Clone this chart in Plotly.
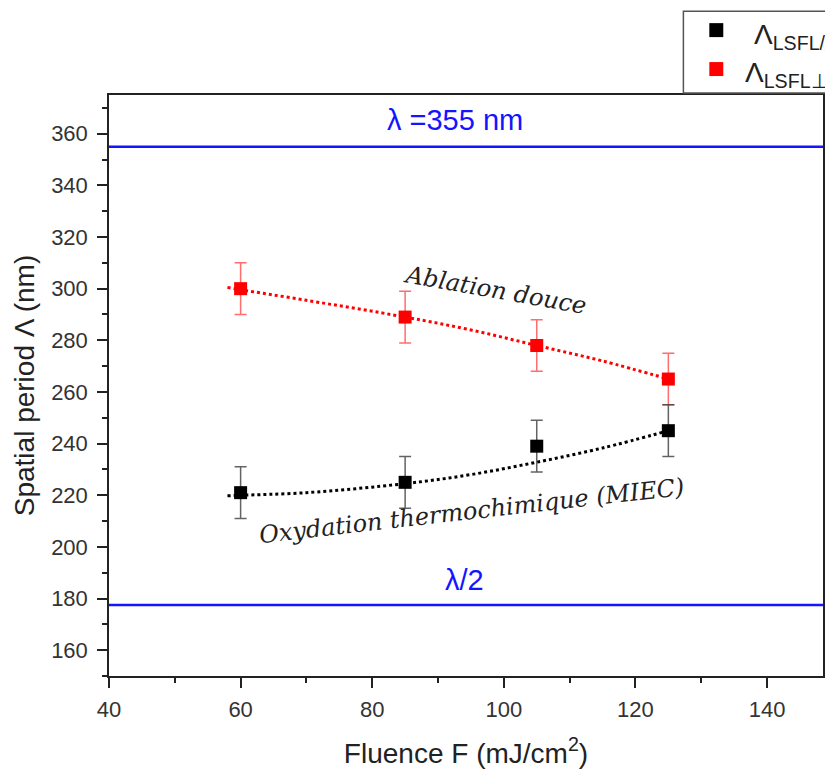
import plotly.graph_objects as go

fluence = [60, 85, 105, 125]
period_perp = [300, 289, 278, 265]     # red, Λ_LSFL⊥
period_par = [221, 225, 239, 245]      # black, Λ_LSFL//
err_perp = [10, 10, 10, 10]
err_par = [10, 10, 10, 10]

fit_x = [58, 60, 70, 85, 95, 105, 115, 125]
fit_perp = [300.5, 299.6, 295.5, 289, 284, 278, 272, 265]
fit_par = [219.8, 220.0, 221.0, 224.5, 228.0, 232.8, 238.3, 245.0]

wavelength = 355
half_wavelength = 177.5

x_range = [40, 148.5]
y_range = [150, 375]

font_sans = "Liberation Sans, Arial, sans-serif"
font_serif = "DejaVu Serif, Liberation Serif, serif"

fig = go.Figure()

fig.add_trace(go.Scatter(x=fit_x, y=fit_perp, mode="lines",
                         line=dict(color="red", width=3, dash="dot", shape="spline"),
                         showlegend=False, hoverinfo="skip"))
fig.add_trace(go.Scatter(x=fit_x, y=fit_par, mode="lines",
                         line=dict(color="black", width=3, dash="dot", shape="spline"),
                         showlegend=False, hoverinfo="skip"))

fig.add_trace(go.Scatter(x=fluence, y=period_perp, mode="markers",
                         marker=dict(symbol="square", size=13, color="red"),
                         error_y=dict(type="data", array=err_perp, color="rgba(255,60,60,0.75)",
                                      thickness=1.5, width=6),
                         name="Λ<sub>LSFL⊥</sub>", showlegend=False))
fig.add_trace(go.Scatter(x=fluence, y=period_par, mode="markers",
                         marker=dict(symbol="square", size=13, color="black"),
                         error_y=dict(type="data", array=err_par, color="rgba(60,60,60,0.8)",
                                      thickness=1.5, width=6),
                         name="Λ<sub>LSFL//</sub>", showlegend=False))

for yv in [wavelength, half_wavelength]:
    fig.add_shape(type="line", xref="paper", x0=0, x1=1, yref="y", y0=yv, y1=yv,
                  line=dict(color="#1414ff", width=2.5))

ann = []
ann.append(dict(x=(456 - 109) / 716, xref="paper", y=wavelength, yref="y", yshift=27,
                yanchor="middle", text="λ =355 nm", showarrow=False,
                font=dict(family=font_sans, size=29, color="#1414ff")))
ann.append(dict(x=(465 - 109) / 716, xref="paper", y=half_wavelength, yref="y", yshift=25,
                yanchor="middle", text="λ/2", showarrow=False,
                font=dict(family=font_sans, size=29, color="#1414ff")))
ann.append(dict(x=98.6, y=299.5, text="<i>Ablation douce</i>", showarrow=False, textangle=10,
                font=dict(family=font_serif, size=24, color="#222")))
ann.append(dict(x=95.2, y=213.8, text="<i>Oxydation thermochimique (MIEC)</i>", showarrow=False,
                textangle=-6.5, font=dict(family=font_serif, size=24, color="#222")))

# legend (partially outside the page, as in the reference)
W = 716.0
H = 582.0
fig.add_shape(type="rect", xref="paper", yref="paper",
              x0=(685 - 109) / W, x1=1.3, y0=(677 - 93) / H, y1=(677 - 11) / H,
              line=dict(color="#555", width=1.5), fillcolor="white", layer="above")
for py, col in [(30, "black"), (69, "red")]:
    cx = (718 - 109) / W
    cy = (677 - py) / H
    fig.add_shape(type="rect", xref="paper", yref="paper",
                  x0=cx - 7 / W, x1=cx + 7 / W, y0=cy - 7 / H, y1=cy + 7 / H,
                  line=dict(width=0), fillcolor=col, layer="above")
ann.append(dict(x=(754 - 109) / W, xref="paper", y=(677 - 36) / H, yref="paper",
                xanchor="left", yanchor="middle", showarrow=False,
                text="Λ<sub>LSFL//</sub>", font=dict(family=font_sans, size=28, color="#222")))
ann.append(dict(x=(745 - 109) / W, xref="paper", y=(677 - 74) / H, yref="paper",
                xanchor="left", yanchor="middle", showarrow=False,
                text="Λ<sub>LSFL⊥</sub>", font=dict(family=font_sans, size=28, color="#222")))

fig.update_layout(
    width=825, height=769,
    margin=dict(l=109, r=0, t=95, b=92),
    plot_bgcolor="white", paper_bgcolor="white",
    annotations=ann,
    font=dict(family=font_sans, color="#333"),
    showlegend=False,
)

fig.update_xaxes(range=x_range, dtick=20, tick0=40, ticks="outside", ticklen=10, tickwidth=1.5,
                 tickcolor="#222", showline=True, linecolor="#222", linewidth=1.5, mirror=True,
                 showgrid=False, zeroline=False, tickfont=dict(size=22, color="#333"),
                 ticklabelstandoff=3,
                 minor=dict(dtick=10, tick0=40, ticks="outside", ticklen=5, tickcolor="#222"),
                 title=dict(text="Fluence F (mJ/cm<sup>2</sup>)", font=dict(size=28, color="#222"),
                            standoff=27))
fig.update_yaxes(range=y_range, dtick=20, tick0=160, ticks="outside", ticklen=10, tickwidth=1.5,
                 tickcolor="#222", showline=True, linecolor="#222", linewidth=1.5, mirror=True,
                 showgrid=False, zeroline=False, tickfont=dict(size=22, color="#333"),
                 ticklabelstandoff=5,
                 minor=dict(dtick=10, tick0=150, ticks="outside", ticklen=5, tickcolor="#222"),
                 title=dict(text="Spatial period Λ (nm)", font=dict(size=28, color="#222"),
                            standoff=8))

fig.write_html("out.html", config={"displayModeBar": False},
               post_script="document.body.style.margin='0';document.body.style.overflow='hidden';")
